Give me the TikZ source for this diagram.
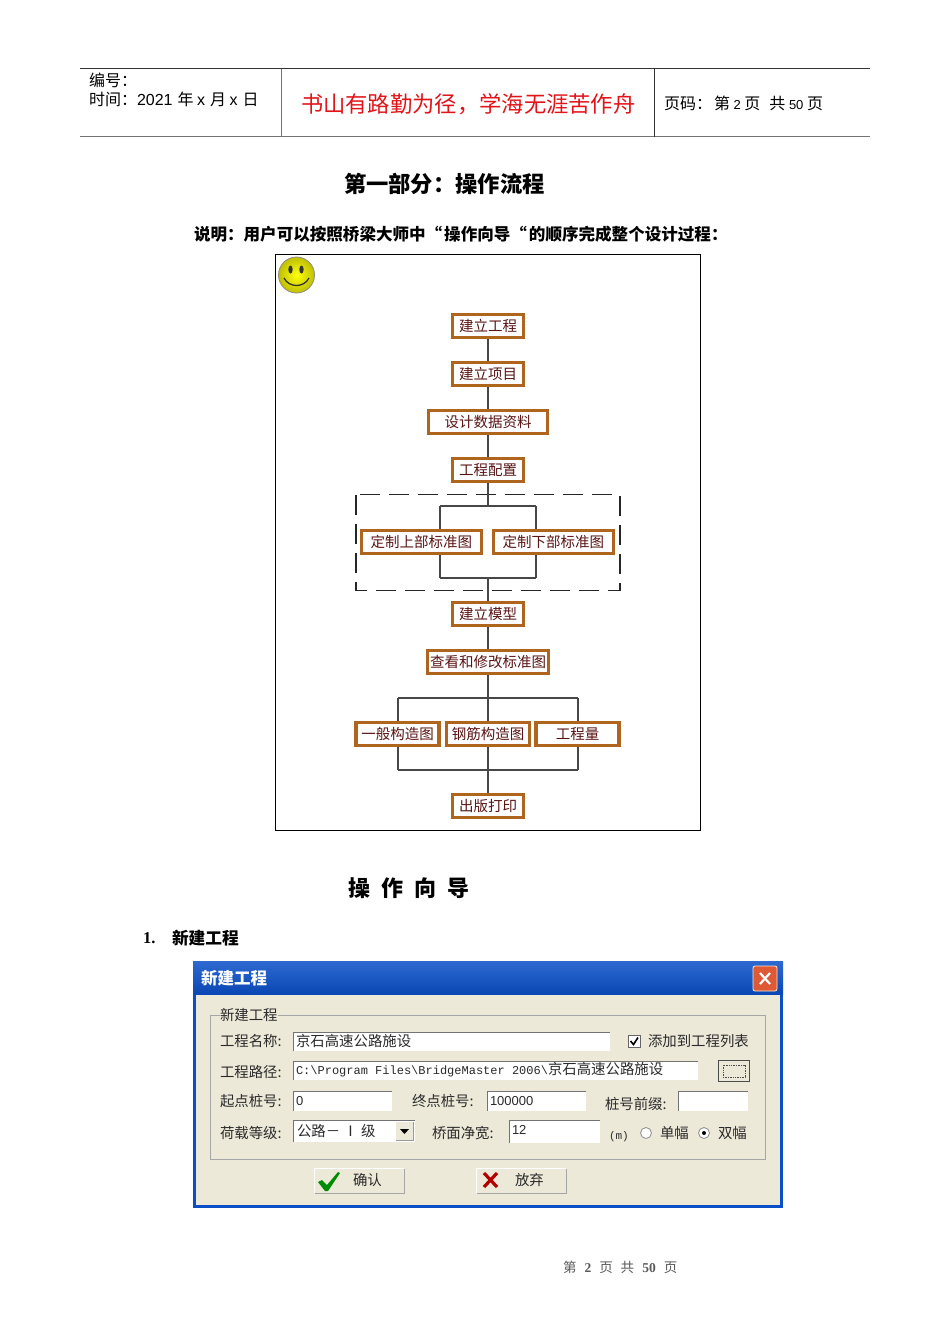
\documentclass[tikz,border=0pt]{standalone}
\usepackage{fontspec}
\setmainfont{Liberation Sans}
\newfontfamily\cjk{Noto Sans CJK SC}
\newfontfamily\lat{Liberation Sans}
\newfontfamily\ser{Liberation Serif}
\newfontfamily\mon{Liberation Mono}
\usetikzlibrary{calc}
\definecolor{boxbrown}{HTML}{B0651F}
\definecolor{boxtext}{HTML}{5A1414}
\definecolor{dlgbg}{HTML}{ECE9D8}
\definecolor{dlgblue}{HTML}{0A4FC8}
\definecolor{dlgtext}{HTML}{2A2A2A}
\newcommand{\fs}[1]{\fontsize{#1}{#1}\selectfont}
\tikzset{
  lab/.style={inner sep=0pt,outer sep=0pt,anchor=west,font=\cjk\fs{16}},
  flow/.style={draw=boxbrown,line width=3.6pt,fill=white,inner sep=0pt,minimum height=23pt,text=boxtext,font=\cjk\fs{14.5}},
  wire/.style={draw=black!72,line width=1.6pt},
  dl/.style={inner sep=0pt,outer sep=0pt,anchor=west,text=dlgtext,font=\cjk\fs{14.4}},
  field/.style={fill=white,draw=none},
  sunk/.style={draw=black!55,line width=1pt},
  btnshadow/.style={draw=black!35,line width=1pt},
  btnlight/.style={draw=white,line width=1pt},
}
\begin{document}
\begin{tikzpicture}[x=1pt,y=-1pt]
\useasboundingbox (0,0) rectangle (950,1344);
\fill[white] (0,0) rectangle (950,1344);
% header
\draw[black!80,line width=1pt] (80,68.5) -- (870,68.5);
\draw[black!55,line width=1.5pt] (80,136.5) -- (870,136.5);
\draw[black!55,line width=.8pt] (281,68.5) -- (281,136.5);
\draw[black!80,line width=.8pt] (654.5,68.5) -- (654.5,136.5);
\node[lab] (h1) at (89,80) {\cjk 编号：};
\node[lab] (h2) at (89,99) {\cjk 时间：\lat 2021 \cjk\hspace{.5pt}年 \lat x \cjk\hspace{.5pt}月 \lat x \cjk\hspace{.5pt}日};
\node[lab,text={rgb,255:red,225;green,20;blue,25},font=\cjk\fs{22.3}] (h3) at (301,104) {书山有路勤为径，学海无涯苦作舟};
\node[lab] (h4) at (664,103) {\cjk 页码：\hspace{2pt}第 \lat\fs{13}2 \cjk\fs{16}页\hspace{9pt}共 \lat\fs{13}50 \cjk\fs{16}页};
\node[lab,font=\cjk\bfseries\fs{22.3}] (t1) at (344,184) {第一部分：操作流程};
\node[lab,font=\cjk\bfseries\fs{16.55}] (t2) at (194,234) {说明：用户可以按照桥梁大师中“\hspace{2pt}操作向导“\hspace{2pt}的顺序完成整个设计过程：};
% flow frame
\draw[black,line width=1.1pt] (275.5,254.5) rectangle (700.5,830.5);
\shade[inner color=yellow!95!white,outer color=yellow!75!black] (296.5,275) circle (18);
\draw[black!45,line width=.8pt] (296.5,275) circle (18);
\fill[black!80] (290.5,269.5) ellipse (2.2 and 4);
\fill[black!80] (301.5,269.5) ellipse (2.2 and 4);
\draw[black!80,line width=1.3pt] (284,278) .. controls (289,288) and (304,288) .. (309,278);
% dashed group
\draw[black!85,line width=1.3pt,dash pattern=on 20pt off 9pt] (356,494.5) rectangle (620,590.5);
% flow nodes
\coordinate (ua) at (488,506);
\coordinate (ub) at (488,578);
\coordinate (uL) at (440,506);
\coordinate (uR) at (536,506);
\coordinate (uLb) at (440,578);
\coordinate (uRb) at (536,578);
\coordinate (la) at (488,698);
\coordinate (lb) at (488,770);
\coordinate (lL) at (398,698);
\coordinate (lR) at (578,698);
\coordinate (lLb) at (398,770);
\coordinate (lRb) at (578,770);
\draw[wire] (uL) -- (uR) (uLb) -- (uRb);
\draw[wire] (lL) -- (lR) (lLb) -- (lRb);
\node[flow,minimum width=71pt] (n1) at (488,326) {建立工程};
\node[flow,minimum width=71pt] (n2) at (488,374) {建立项目};
\node[flow,minimum width=119pt] (n3) at (488,422) {设计数据资料};
\node[flow,minimum width=71pt] (n4) at (488,470) {工程配置};
\node[flow,minimum width=120pt] (u1) at (421.3,542) {定制上部标准图};
\node[flow,minimum width=120pt] (u2) at (553.3,542) {定制下部标准图};
\node[flow,minimum width=71pt] (n5) at (488,614) {建立模型};
\node[flow,minimum width=121pt] (n6) at (488,662) {查看和修改标准图};
\node[flow,minimum width=83pt] (l1) at (397.5,734) {一般构造图};
\node[flow,minimum width=83pt] (l2) at (488,734) {钢筋构造图};
\node[flow,minimum width=83pt] (l3) at (577.5,734) {工程量};
\node[flow,minimum width=71pt] (n7) at (488,806) {出版打印};
\draw[wire] (n1.south) -- (n2.north);
\draw[wire] (n2.south) -- (n3.north);
\draw[wire] (n3.south) -- (n4.north);
\draw[wire] (n4.south) -- (ua);
\draw[wire] (uL) -- (u1.north-|uL);
\draw[wire] (uR) -- (u2.north-|uR);
\draw[wire] (u1.south-|uLb) -- (uLb);
\draw[wire] (u2.south-|uRb) -- (uRb);
\draw[wire] (ub) -- (n5.north);
\draw[wire] (n5.south) -- (n6.north);
\draw[wire] (n6.south) -- (l2.north);
\draw[wire] (lL) -- (l1.north-|lL);
\draw[wire] (lR) -- (l3.north-|lR);
\draw[wire] (l1.south-|lLb) -- (lLb);
\draw[wire] (l2.south) -- (n7.north);
\draw[wire] (l3.south-|lRb) -- (lRb);
% headings
\node[lab,font=\cjk\bfseries\fs{22}] (t3) at (348,888) {操\hspace{11pt}作\hspace{11pt}向\hspace{11pt}导};
\node[lab,font=\ser\bfseries\fs{16.5}] (t4) at (143,938) {1.};
\node[lab,font=\cjk\bfseries\fs{16.7}] (t5) at (172,938) {新建工程};
% dialog
\fill[dlgblue] (193,961) rectangle (783,1208);
\fill[dlgbg] (196,994) rectangle (780,1204.5);
\shade[top color=dlgblue!85!white,bottom color=dlgblue!90!black] (193,961) rectangle (783,994);
\node[dl,text=white,font=\cjk\bfseries\fs{16.5}] (dt) at (201,978) {新建工程};
\draw[white!80!orange,line width=.8pt,fill={rgb,255:red,222;green,90;blue,55},rounded corners=2pt] (753,966) rectangle (777,991);
\draw[white,line width=2.2pt] (760,973) -- (770,984) (770,973) -- (760,984);
% group box
\draw[black!35,line width=.9pt] (210.5,1015.5) rectangle (765.5,1159.5);
\node[dl,fill=dlgbg,inner xsep=0pt] (g0) at (220,1014.5) {新建工程};
% fields
\foreach \a/\b/\c/\d in {293/1032/610/1051,293/1061/698/1080,293/1091/392/1111,487/1091/586/1111,678/1091/748/1111,509/1120/600/1143,293/1120/415/1142}{
  \fill[field] (\a,\b) rectangle (\c,\d);
  \draw[sunk] (\a+.5,\d) -- (\a+.5,\b+.5) -- (\c,\b+.5);
}
% row 1
\node[dl] (r1) at (220,1041) {工程名称:};
\node[dl] (r1v) at (296,1041) {京石高速公路施设};
\draw[black!60,fill=white,line width=.9pt] (628.5,1035.5) rectangle (640,1047);
\draw[black,line width=1.6pt] (630.5,1041) -- (633.5,1044.5) -- (638,1037.5);
\node[dl] (r1c) at (648,1041) {添加到工程列表};
% row 2
\node[dl] (r2) at (220,1072) {工程路径:};
\node[dl] (r2v) at (296,1070) {\mon\fs{12}C:\textbackslash Program Files\textbackslash BridgeMaster 2006\textbackslash\cjk\fs{14.4}京石高速公路施设};
\draw[fill=dlgbg,draw=black!70,line width=1pt] (718.5,1060.5) rectangle (749,1081);
\draw[black!70,densely dotted,line width=.7pt] (723,1065) rectangle (745,1077);
% row 3
\node[dl] (r3) at (220,1101) {起点桩号:};
\node[dl,font=\lat\fs{13}] (r3v) at (296,1101) {0};
\node[dl] (r3b) at (412,1101) {终点桩号:};
\node[dl,font=\lat\fs{13}] (r3w) at (490,1101) {100000};
\node[dl] (r3c) at (605,1104) {桩号前缀:};
% row 4
\node[dl] (r4) at (220,1133) {荷载等级:};
\node[dl,font=\cjk\fs{14.4}] (r4v) at (297,1131) {公路－ Ⅰ 级};
\fill[dlgbg] (396,1122) rectangle (413,1140);
\draw[black!40,line width=.7pt] (396,1140) -- (413,1140) -- (413,1122);
\fill[black] (400,1129) -- (409,1129) -- (404.5,1134) -- cycle;
\node[dl] (r4b) at (432,1133) {桥面净宽:};
\node[dl,font=\lat\fs{13}] (r4w) at (512,1130) {12};
\node[dl,font=\mon\fs{11}] (r4m) at (609,1137) {(m)};
\draw[black!45,fill=white,line width=.8pt] (646,1133) circle (5.5);
\node[dl] (r4r) at (660,1133) {单幅};
\draw[black!45,fill=white,line width=.8pt] (704,1133) circle (5.5);
\fill[black] (704,1133) circle (2);
\node[dl] (r4s) at (718,1133) {双幅};
% buttons
\draw[btnlight] (314.5,1193) -- (314.5,1168.5) -- (404,1168.5);
\draw[btnshadow] (314.5,1193) -- (404,1193) -- (404,1168.5);
\fill[green!55!black] (318,1182) -- (322,1180) -- (327,1185) -- (338,1172) -- (340,1173) -- (328,1191) -- (325,1191) -- cycle;
\node[dl] (ok) at (353,1180) {确认};
\draw[btnlight] (476.5,1193) -- (476.5,1168.5) -- (566,1168.5);
\draw[btnshadow] (476.5,1193) -- (566,1193) -- (566,1168.5);
\draw[red!70!black,line width=3.2pt] (484,1173) -- (497,1187) (497,1173) -- (484,1187);
\node[dl] (no) at (515,1180) {放弃};
% footer
\node[lab,text=black!65,font=\cjk\fs{13.5}] (f) at (563,1267) {第\hspace{8pt}\ser\bfseries 2\hspace{8pt}\cjk\mdseries 页\hspace{8pt}共\hspace{8pt}\ser\bfseries 50\hspace{8pt}\cjk\mdseries 页};
\end{tikzpicture}
\end{document}
